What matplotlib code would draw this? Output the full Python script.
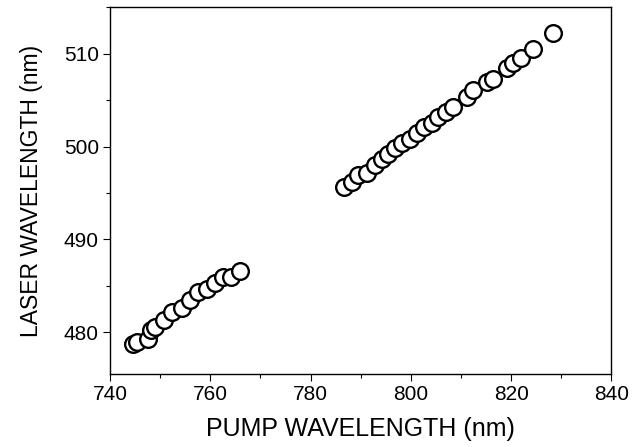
import matplotlib
matplotlib.use("Agg")
import matplotlib.pyplot as plt
from matplotlib.ticker import MultipleLocator

plt.rcParams['font.family'] = ['Liberation Sans', 'DejaVu Sans']

# pump wavelength (nm) -> laser wavelength (nm)
pump_low = [744.6, 745.3, 747.6, 748.1, 749.0, 750.8, 752.4, 754.3, 756.0,
            757.6, 759.3, 760.9, 762.5, 764.1, 765.9]
laser_low = [478.7, 479.0, 479.3, 480.2, 480.6, 481.3, 482.2, 482.6, 483.5,
             484.3, 484.7, 485.3, 486.0, 486.0, 486.6]

pump_high = [786.7, 788.2, 789.5, 791.2, 792.8, 794.2, 795.5, 796.8, 798.2,
             799.8, 801.2, 802.6, 804.3, 805.5, 807.0, 808.3, 811.1, 812.4,
             815.1, 816.4, 819.2, 820.4, 821.9, 824.4, 828.4]
laser_high = [495.6, 496.2, 496.9, 497.2, 498.0, 498.7, 499.2, 499.8, 500.4,
              500.8, 501.5, 502.1, 502.5, 503.2, 503.7, 504.3, 505.3, 506.1,
              506.9, 507.3, 508.4, 509.0, 509.5, 510.5, 512.2]

pump = pump_low + pump_high
laser = laser_low + laser_high

fig = plt.figure(figsize=(6.43, 4.47), dpi=100)
ax = fig.add_axes([0.171, 0.163, 0.780, 0.821])

ax.plot(pump, laser, 'o', ls='none', ms=12, mfc='white', mec='black', mew=1.7)

ax.set_xlim(740, 840)
ax.set_ylim(475.5, 515)
ax.xaxis.set_major_locator(MultipleLocator(20))
ax.xaxis.set_minor_locator(MultipleLocator(10))
ax.yaxis.set_major_locator(MultipleLocator(10))
ax.yaxis.set_minor_locator(MultipleLocator(5))
ax.tick_params(which='major', direction='out', length=5, width=0.8,
               labelsize=15, pad=3, top=False, right=False)
ax.tick_params(which='minor', direction='out', length=3, width=0.8,
               top=False, right=False)
for s in ax.spines.values():
    s.set_linewidth(1.0)

ax.set_xlabel("PUMP WAVELENGTH (nm)", fontsize=18, labelpad=9)
ax.set_ylabel("LASER WAVELENGTH (nm)", fontsize=16.5, labelpad=15)

fig.savefig("out.png", dpi=100)
